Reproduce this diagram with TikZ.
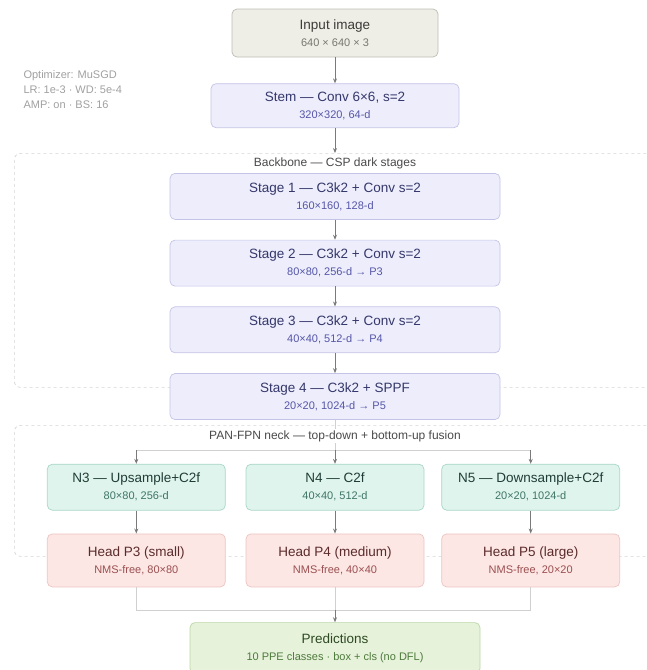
\documentclass[tikz,border=0pt]{standalone}
\usepackage{fontspec}
\setmainfont{Liberation Sans}
\usepackage{xcolor}
\usepackage{tikz}
\usetikzlibrary{arrows.meta,positioning}

\definecolor{inputfill}{HTML}{EEEDE6}
\definecolor{inputline}{HTML}{BEBDB4}
\definecolor{inputtext}{HTML}{3C3C38}
\definecolor{inputsub}{HTML}{77776F}
\definecolor{stagefill}{HTML}{EDEDFC}
\definecolor{stageline}{HTML}{C4C4E6}
\definecolor{stagetext}{HTML}{35386A}
\definecolor{stagesub}{HTML}{5656A8}
\definecolor{neckfill}{HTML}{DFF4ED}
\definecolor{neckline}{HTML}{A9D6C6}
\definecolor{necktext}{HTML}{1F3D36}
\definecolor{necksub}{HTML}{3F7565}
\definecolor{headfill}{HTML}{FCE7E5}
\definecolor{headline}{HTML}{EDC4C0}
\definecolor{headtext}{HTML}{5B2B2B}
\definecolor{headsub}{HTML}{9B4F4F}
\definecolor{predfill}{HTML}{E7F2DB}
\definecolor{predline}{HTML}{BAD7A5}
\definecolor{predtext}{HTML}{2D4A22}
\definecolor{predsub}{HTML}{4D7A3B}
\definecolor{groupline}{HTML}{D4D4D4}
\definecolor{labeltext}{HTML}{4A4A4A}
\definecolor{notetext}{HTML}{A0A0A0}
\definecolor{arrowgray}{HTML}{7A7A7A}
\definecolor{linkgray}{HTML}{D0D0D0}

\newcommand{\subline}[2]{{\fontsize{11}{13}\selectfont\color{#1}#2}}

\begin{document}
\begin{tikzpicture}[
    x=1pt, y=1pt,
    box/.style={rectangle, draw, rounded corners=5pt, align=center, line width=0.7pt, inner sep=2pt, font=\fontsize{13.5}{17}\selectfont},
    inbox/.style={box, fill=inputfill, draw=inputline, text=inputtext, minimum width=206pt, minimum height=48pt},
    stembox/.style={box, fill=stagefill, draw=stageline, text=stagetext, minimum width=248pt, minimum height=44pt},
    stagebox/.style={box, fill=stagefill, draw=stageline, text=stagetext, minimum width=330pt, minimum height=46pt},
    neckbox/.style={box, fill=neckfill, draw=neckline, text=necktext, minimum width=178pt, minimum height=46pt},
    headbox/.style={box, fill=headfill, draw=headline, text=headtext, minimum width=178pt, minimum height=53pt},
    predbox/.style={box, fill=predfill, draw=predline, text=predtext, minimum width=290pt, minimum height=51pt},
    groupbox/.style={rectangle, draw=groupline, dashed, rounded corners=6pt, line width=0.7pt, anchor=north west},
    grouplabel/.style={font=\fontsize{12}{14}\selectfont, text=labeltext, fill=white, inner sep=1pt},
    note/.style={font=\fontsize{11}{15}\selectfont, text=notetext, align=left, anchor=west},
    arrow/.style={-{Stealth[length=5pt,width=4pt]}, draw=arrowgray, line width=0.8pt},
    link/.style={draw=linkgray, line width=0.7pt}
]
    \clip (0,0) rectangle (646,-670);

    % Groups
    \node[groupbox, minimum width=680pt, minimum height=234pt] (backbone) at (14,-153) {};
    \node[groupbox, minimum width=680pt, minimum height=131pt] (neck) at (14,-425) {};

    % Input and stem
    \node[inbox] (input) at (335,-33) {Input image\\\subline{inputsub}{640 × 640 × 3}};
    \node[stembox, below=26pt of input] (stem) {Stem — Conv 6×6, s=2\\\subline{stagesub}{320×320, 64-d}};
    \node[note] (train) at (20,-90) {Optimizer: MuSGD\\LR: 1e-3 · WD: 5e-4\\AMP: on · BS: 16};

    % Backbone
    \node[stagebox, below=45pt of stem] (stage1) {Stage 1 — C3k2 + Conv s=2\\\subline{stagesub}{160×160, 128-d}};
    \node[stagebox, below=20pt of stage1] (stage2) {Stage 2 — C3k2 + Conv s=2\\\subline{stagesub}{80×80, 256-d → P3}};
    \node[stagebox, below=20pt of stage2] (stage3) {Stage 3 — C3k2 + Conv s=2\\\subline{stagesub}{40×40, 512-d → P4}};
    \node[stagebox, below=20pt of stage3] (stage4) {Stage 4 — C3k2 + SPPF\\\subline{stagesub}{20×20, 1024-d → P5}};

    % Neck
    \node[neckbox, below=44pt of stage4] (n4) {N4 — C2f\\\subline{necksub}{40×40, 512-d}};
    \node[neckbox, left=20pt of n4] (n3) {N3 — Upsample+C2f\\\subline{necksub}{80×80, 256-d}};
    \node[neckbox, right=17pt of n4] (n5) {N5 — Downsample+C2f\\\subline{necksub}{20×20, 1024-d}};

    % Heads
    \node[headbox, below=23pt of n3] (h3) {Head P3 (small)\\\subline{headsub}{NMS-free, 80×80}};
    \node[headbox, below=23pt of n4] (h4) {Head P4 (medium)\\\subline{headsub}{NMS-free, 40×40}};
    \node[headbox, below=23pt of n5] (h5) {Head P5 (large)\\\subline{headsub}{NMS-free, 20×20}};

    % Output
    \node[predbox, below=35pt of h4] (pred) {Predictions\\\subline{predsub}{10 PPE classes · box + cls (no DFL)}};

    \coordinate[below=30pt of stage4.south] (split);
    \coordinate[below=23pt of h4.south] (merge);

    % Arrows
    \draw[arrow] (input) -- (stem);
    \draw[arrow] (stem) -- (stem.south |- backbone.north);
    \draw[arrow] (stage1) -- (stage2);
    \draw[arrow] (stage2) -- (stage3);
    \draw[arrow] (stage3) -- (stage4);
    \draw[link] (stage4.south) -- (split);
    \draw[link] (n3.north |- split) -- (n5.north |- split);
    \draw[arrow] (n3.north |- split) -- (n3.north);
    \draw[arrow] (split) -- (n4.north);
    \draw[arrow] (n5.north |- split) -- (n5.north);
    \draw[arrow] (n3) -- (h3);
    \draw[arrow] (n4) -- (h4);
    \draw[arrow] (n5) -- (h5);
    \draw[link] (h3.south) -- (h3.south |- merge) -- (h5.south |- merge) -- (h5.south);
    \draw[link] (h4.south) -- (merge);
    \draw[arrow] (merge) -- (pred.north);

    % Group labels
    \node[grouplabel] (bblabel) at (335,-163) {Backbone — CSP dark stages};
    \node[grouplabel] (necklabel) at (335,-436) {PAN-FPN neck — top-down + bottom-up fusion};

\end{tikzpicture}
\end{document}
